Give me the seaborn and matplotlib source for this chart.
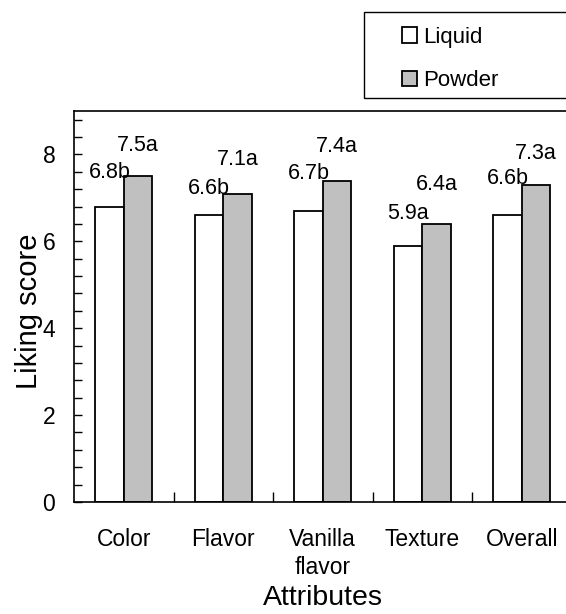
import numpy as np
import pandas as pd
import seaborn as sns
import matplotlib.pyplot as plt
from matplotlib.ticker import MultipleLocator
from matplotlib.patches import Rectangle

attributes = ["Color", "Flavor", "Vanilla\nflavor", "Texture", "Overall"]
forms = ["Liquid", "Powder"]
liquid_scores = [6.8, 6.6, 6.7, 5.9, 6.6]
powder_scores = [7.5, 7.1, 7.4, 6.4, 7.3]
liquid_letters = ["b", "b", "b", "a", "b"]
powder_letters = ["a", "a", "a", "a", "a"]

# long table for seaborn
df = pd.DataFrame({
    "Attributes": attributes * 2,
    "Form": [forms[0]] * len(attributes) + [forms[1]] * len(attributes),
    "Liking score": liquid_scores + powder_scores,
})

sns.set_theme(style="white")
plt.rcParams["font.family"] = ["Liberation Sans", "DejaVu Sans"]
plt.rcParams.update({"text.color": "black", "axes.labelcolor": "black",
                     "xtick.color": "black", "ytick.color": "black"})

fig = plt.figure(figsize=(5.66, 6.14), dpi=100)
ax = fig.add_axes([74 / 566, 1 - 502 / 614, 497.5 / 566, 391 / 614])

sns.barplot(data=df, x="Attributes", y="Liking score", hue="Form",
            palette=["white", "#c0c0c0"], width=0.57, edgecolor="black",
            linewidth=1.3, saturation=1, ax=ax)

ax.set_ylim(0, 9)
ax.set_xlim(-0.5, 4.5)
ax.set_yticks([0, 2, 4, 6, 8])
ax.yaxis.set_minor_locator(MultipleLocator(0.4))
ax.set_xticks(range(len(attributes)))
ax.set_xticks(np.arange(0.5, len(attributes) - 1, 1.0), minor=True)

ax.tick_params(axis="y", which="both", direction="in", length=6, width=1,
               color="black", labelsize=16.5, pad=13.5, left=True)
ax.tick_params(axis="x", which="major", length=0, labelsize=16.5, pad=18.5)
ax.tick_params(axis="x", which="minor", direction="in", length=7, width=1,
               color="black", bottom=True)
for t in ax.get_xticklabels():
    t.set_linespacing(1.3)

for s in ax.spines.values():
    s.set_color("black")
    s.set_linewidth(1.2)

ax.set_xlabel("Attributes", fontsize=20.5)
ax.set_ylabel("Liking score", fontsize=21)
ax.xaxis.set_label_coords(0.5, -0.212)
ax.yaxis.set_label_coords(-0.062, 0.487)

# value labels above the bars
lifts = [[29, 21, 31.7, 26.7, 31.7], [25, 29, 29, 34, 25.7]]
letters = [liquid_letters, powder_letters]
for i, cont in enumerate(ax.containers):
    for j, bar in enumerate(cont):
        h = bar.get_height()
        ax.annotate(f"{h:.1f}{letters[i][j]}",
                    (bar.get_x() + bar.get_width() / 2, h),
                    xytext=(0, lifts[i][j] * 0.72), textcoords="offset points",
                    ha="center", va="baseline", fontsize=15.5)

# legend in its own box at the top right
handles, labels = ax.get_legend_handles_labels()
ax.legend(handles, labels, loc="upper left",
          bbox_to_anchor=(401.7 / 566, 1 - 27 / 614),
          bbox_transform=fig.transFigure, frameon=False, fontsize=16,
          handlelength=0.7, handleheight=0.7, handletextpad=0.25,
          labelspacing=1.0, borderpad=0, borderaxespad=0)
fig.patches.append(Rectangle((364 / 566, 1 - 98 / 614), 0.5, 86 / 614,
                             transform=fig.transFigure, fill=False,
                             edgecolor="black", linewidth=1))

fig.savefig("out.png", dpi=100)
